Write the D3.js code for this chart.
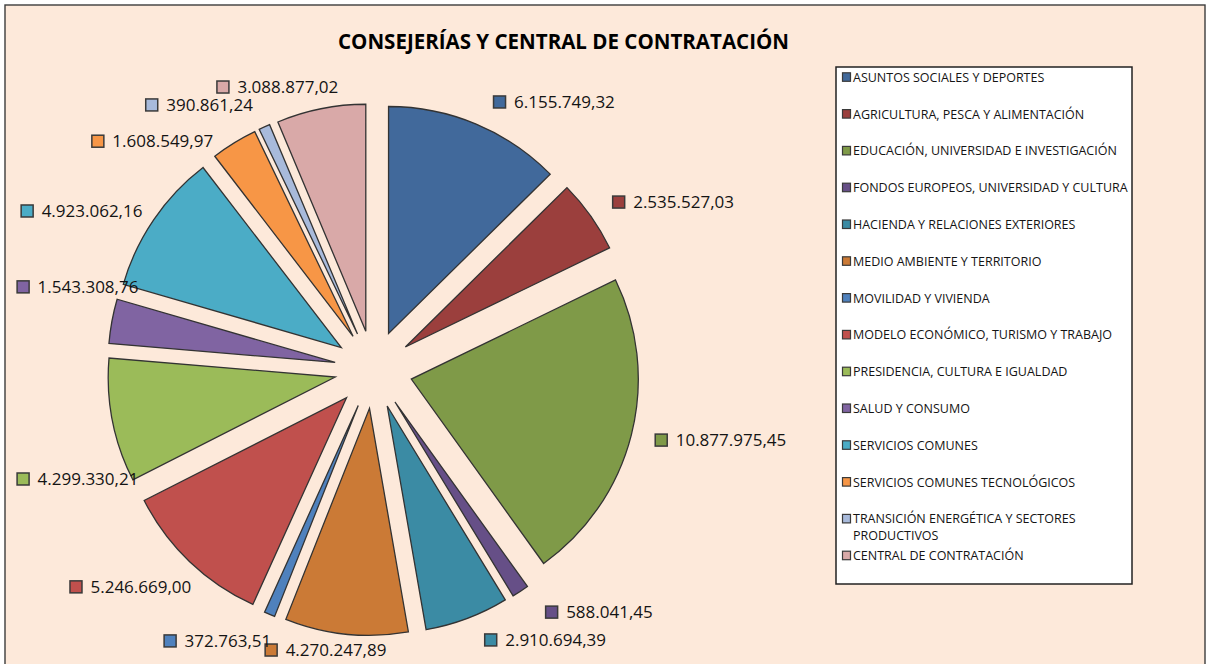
<!DOCTYPE html>
<html><head><meta charset="utf-8">
<script src="https://cdn.jsdelivr.net/npm/d3@7"></script>
<style>body{margin:0;background:#fff} svg{display:block}</style>
</head><body>
<svg id="chart" width="1208" height="664"></svg>
<script>
// ---- data ----
const categories = [
  "ASUNTOS SOCIALES Y DEPORTES",
  "AGRICULTURA, PESCA Y ALIMENTACIÓN",
  "EDUCACIÓN, UNIVERSIDAD E INVESTIGACIÓN",
  "FONDOS EUROPEOS, UNIVERSIDAD Y CULTURA",
  "HACIENDA Y RELACIONES EXTERIORES",
  "MEDIO AMBIENTE Y TERRITORIO",
  "MOVILIDAD Y VIVIENDA",
  "MODELO ECONÓMICO, TURISMO Y TRABAJO",
  "PRESIDENCIA, CULTURA E IGUALDAD",
  "SALUD Y CONSUMO",
  "SERVICIOS COMUNES",
  "SERVICIOS COMUNES TECNOLÓGICOS",
  "TRANSICIÓN ENERGÉTICA Y SECTORES PRODUCTIVOS",
  "CENTRAL DE CONTRATACIÓN"
];
const values = [
  6155749.32, 2535527.03, 10877975.45, 588041.45, 2910694.39, 4270247.89, 372763.51,
  5246669.00, 4299330.21, 1543308.76, 4923062.16, 1608549.97, 390861.24, 3088877.02
];
const title = "CONSEJERÍAS Y CENTRAL DE CONTRATACIÓN";

// ---- styling / layout (not data) ----
const colors = ["#41699b","#9b3f3d","#7f9a48","#664f87","#3b8ba4","#cb7a36","#4f81bd",
                "#c0504d","#9bbb59","#8064a2","#4bacc6","#f79646","#a8badb","#d9a9a8"];
// label box centres, polar from pie centre (degrees clockwise from 12 o'clock, px)
const labelAngle = [34.0, 60.8, 101.5, 137.1, 147.6, 189.7, 209.9, 228.2, 249.7, 285.6, 298.5, 315.9, 326.6, 341.2];
const labelDist  = [322.7, 343.2, 354.1, 331.2, 320.3, 284.6, 313.1, 326.1, 315.6, 307.3, 332.2, 317.9, 316.9, 298.4];

const W = 1208, H = 664;
const cx = 373.5, cy = 369.5, R = 227, explode = 39;
const fmt = d3.formatLocale({decimal: ",", thousands: ".", grouping: [3], currency: ["", ""]}).format(",.2f");

const svg = d3.select("#chart");
svg.append("rect").attr("x", 0).attr("y", 0).attr("width", W).attr("height", H).attr("fill", "#ffffff");
svg.append("rect").attr("x", 5).attr("y", 5).attr("width", 1200).attr("height", 700)
   .attr("fill", "#fde9da").attr("stroke", "#3c3c3c").attr("stroke-width", 1.4);

svg.append("text").attr("x", 563.5).attr("y", 48.5).attr("text-anchor", "middle")
   .attr("font-family", "'Open Sans', 'Noto Sans', sans-serif").attr("font-weight", "bold")
   .attr("font-size", 21).attr("textLength", 451).attr("lengthAdjust", "spacingAndGlyphs")
   .attr("fill", "#000").text(title);

// ---- pie ----
const pie = d3.pie().sort(null).value(d => d).startAngle(0).endAngle(2 * Math.PI);
const arcs = pie(values);
const arc = d3.arc().innerRadius(0).outerRadius(R);
const g = svg.append("g").attr("transform", `translate(${cx},${cy})`);
g.selectAll("path").data(arcs).join("path")
  .attr("d", arc)
  .attr("transform", d => {
    const m = (d.startAngle + d.endAngle) / 2;
    return `translate(${explode * Math.sin(m)},${-explode * Math.cos(m)})`;
  })
  .attr("fill", (d, i) => colors[i])
  .attr("stroke", "#333").attr("stroke-width", 1.3).attr("stroke-linejoin", "miter");

// ---- data labels ----
const lab = svg.append("g").attr("font-family", "'Open Sans', 'Noto Sans', sans-serif").attr("font-size", 17);
arcs.forEach((d, i) => {
  const a = labelAngle[i] * Math.PI / 180;
  const px = cx + labelDist[i] * Math.sin(a), py = cy - labelDist[i] * Math.cos(a);
  const grp = lab.append("g");
  const t = grp.append("text").attr("y", py + 6).attr("fill", "#141414").text(fmt(values[i]));
  const tw = t.node().getComputedTextLength();
  const total = 12 + 9 + tw;
  const left = px - total / 2;
  grp.append("rect").attr("x", left + 0.5).attr("y", py - 6).attr("width", 12).attr("height", 12)
     .attr("fill", colors[i]).attr("stroke", "#3a3a3a").attr("stroke-width", 1.5);
  t.attr("x", left + 21);
});

// ---- legend ----
const lg = svg.append("g");
lg.append("rect").attr("x", 836).attr("y", 67).attr("width", 296).attr("height", 517)
  .attr("fill", "#ffffff").attr("stroke", "#222").attr("stroke-width", 1.5);
const lgFont = "'Open Sans', 'Noto Sans', sans-serif";
categories.forEach((c, i) => {
  const y = 77.3 + i * 36.8;
  lg.append("rect").attr("x", 842.5).attr("y", y - 4.5).attr("width", 8).attr("height", 8.5)
    .attr("fill", colors[i]).attr("stroke", "#3a3a3a").attr("stroke-width", 1.2);
  const lines = c === "TRANSICIÓN ENERGÉTICA Y SECTORES PRODUCTIVOS"
    ? ["TRANSICIÓN ENERGÉTICA Y SECTORES", "PRODUCTIVOS"] : [c];
  lines.forEach((ln, k) => {
    lg.append("text").attr("x", 853).attr("y", y + 4.5 + k * 16.7)
      .attr("font-family", lgFont).attr("font-size", 12.5).attr("fill", "#141414").text(ln);
  });
});
</script>
</body></html>
